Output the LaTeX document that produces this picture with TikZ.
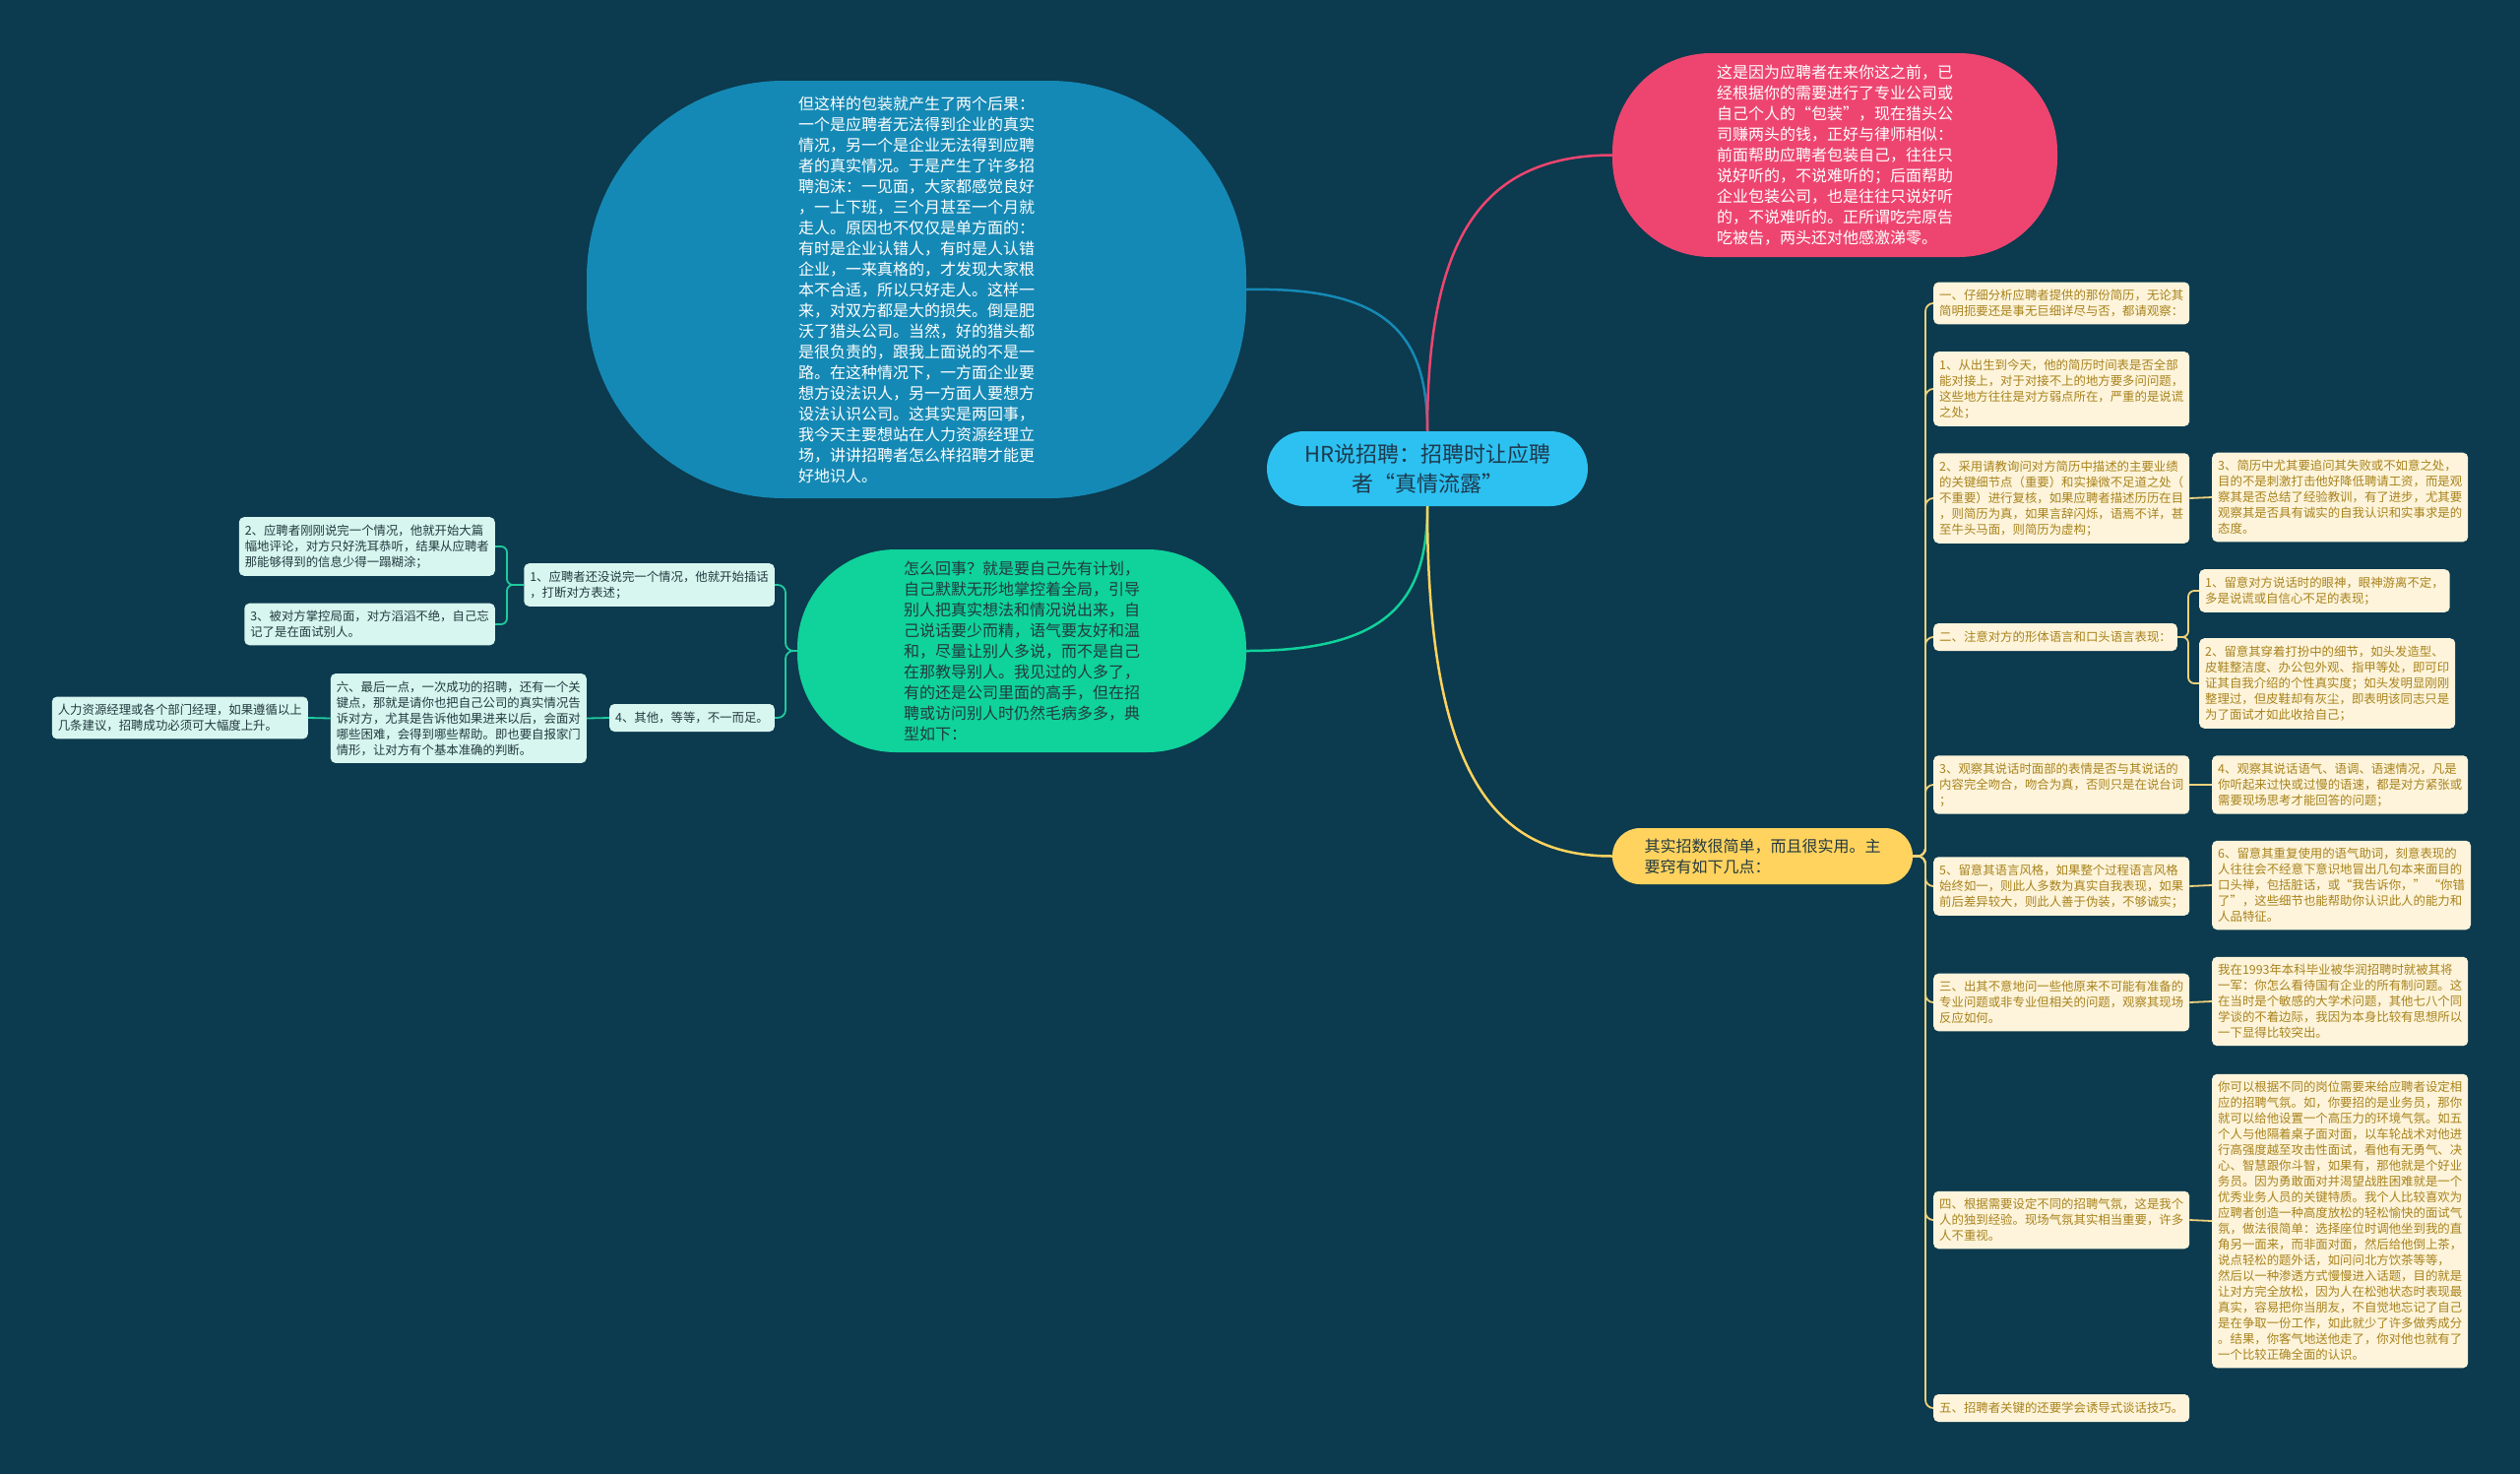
\documentclass[tikz,border=0pt]{standalone}
\usepackage{fontspec}
\setmainfont{Noto Sans CJK SC}
\definecolor{bg}{HTML}{0C3A4E}
\definecolor{ctrc}{HTML}{2CC1F1}
\definecolor{ctrtext}{HTML}{1E3A4E}
\definecolor{bluec}{HTML}{1589B5}
\definecolor{pinkc}{HTML}{EE4570}
\definecolor{greenc}{HTML}{10D29B}
\definecolor{yellowc}{HTML}{FFD35E}
\definecolor{cream}{HTML}{FDF4DB}
\definecolor{gold}{HTML}{A8821C}
\definecolor{mint}{HTML}{D6F6EF}
\definecolor{ldark}{HTML}{23393F}
\definecolor{ylinec}{HTML}{F0D27A}
\definecolor{glinec}{HTML}{1FCB9E}
\begin{document}
\begin{tikzpicture}[x=1pt,y=-1pt,
  bigtext/.style={font=\fontsize{16}{21}\selectfont, align=left, inner sep=0pt},
  smtext/.style={font=\fontsize{12.4}{16}\selectfont, align=left, rounded corners=5pt, inner xsep=6pt, inner ysep=7.5pt, minimum height=28pt},
  rbox/.style={smtext, fill=cream, text=gold},
  lbox/.style={smtext, fill=mint, text=ldark},
  mainlink/.style={line width=2.5pt},
  ylink/.style={draw=ylinec, line width=1.8pt, rounded corners=8pt},
  glink/.style={draw=glinec, line width=1.8pt, rounded corners=8pt}]
\fill[bg] (0,0) rectangle (2560,1497);
\useasboundingbox (0,0) rectangle (2560,1497);

% main nodes
\node[bigtext, fill=bluec, text=white, minimum width=670pt, minimum height=424pt, rounded corners=200pt] (B) at (931,294) {但这样的包装就产生了两个后果：\\一个是应聘者无法得到企业的真实\\情况，另一个是企业无法得到应聘\\者的真实情况。于是产生了许多招\\聘泡沫：一见面，大家都感觉良好\\，一上下班，三个月甚至一个月就\\走人。原因也不仅仅是单方面的：\\有时是企业认错人，有时是人认错\\企业，一来真格的，才发现大家根\\本不合适，所以只好走人。这样一\\来，对双方都是大的损失。倒是肥\\沃了猎头公司。当然，好的猎头都\\是很负责的，跟我上面说的不是一\\路。在这种情况下，一方面企业要\\想方设法识人，另一方面人要想方\\设法认识公司。这其实是两回事，\\我今天主要想站在人力资源经理立\\场，讲讲招聘者怎么样招聘才能更\\好地识人。};

\node[bigtext, fill=pinkc, text=white, minimum width=452pt, minimum height=207pt, rounded corners=100pt] (P) at (1864,157.5) {这是因为应聘者在来你这之前，已\\经根据你的需要进行了专业公司或\\自己个人的“包装”，现在猎头公\\司赚两头的钱，正好与律师相似：\\前面帮助应聘者包装自己，往往只\\说好听的，不说难听的；后面帮助\\企业包装公司，也是往往只说好听\\的，不说难听的。正所谓吃完原告\\吃被告，两头还对他感激涕零。};

\node[font=\fontsize{22}{30}\selectfont, align=center, fill=ctrc, text=ctrtext, minimum width=326pt, minimum height=76pt, rounded corners=38pt, inner sep=0pt] (C) at (1450,476) {HR说招聘：招聘时让应聘\\者“真情流露”};

\node[bigtext, fill=greenc, text=ldark, minimum width=456pt, minimum height=206pt, rounded corners=100pt] (G) at (1038,661) {怎么回事？就是要自己先有计划，\\自己默默无形地掌控着全局，引导\\别人把真实想法和情况说出来，自\\己说话要少而精，语气要友好和温\\和，尽量让别人多说，而不是自己\\在那教导别人。我见过的人多了，\\有的还是公司里面的高手，但在招\\聘或访问别人时仍然毛病多多，典\\型如下：};

\node[bigtext, fill=yellowc, text=ldark, minimum width=305pt, minimum height=57pt, rounded corners=28pt] (Y) at (1790.5,869.5) {其实招数很简单，而且很实用。主\\要窍有如下几点：};

% main connectors
\draw[mainlink, bluec] (B.east) .. controls (1410,291) and (1450,340) .. (C.north);
\draw[mainlink, pinkc] (C.north) .. controls (1450,250) and (1500,157.5) .. (P.west);
\draw[mainlink, greenc] (C.south) .. controls (1450,610) and (1410,661) .. (G.east);
\draw[mainlink, yellowc] (C.south) .. controls (1450,790) and (1520,869.5) .. (Y.west);

% left nodes
\node[lbox, anchor=east] (L1) at (787,594) {1、应聘者还没说完一个情况，他就开始插话\\，打断对方表述；};
\node[lbox, anchor=east] (L2) at (503,555) {2、应聘者刚刚说完一个情况，他就开始大篇\\幅地评论，对方只好洗耳恭听，结果从应聘者\\那能够得到的信息少得一蹋糊涂；};
\node[lbox, anchor=east] (L3) at (503,634) {3、被对方掌控局面，对方滔滔不绝，自己忘\\记了是在面试别人。};
\node[lbox, anchor=east] (L4) at (787,729) {4、其他，等等，不一而足。};
\node[lbox, anchor=east] (L6) at (596,729.5) {六、最后一点，一次成功的招聘，还有一个关\\键点，那就是请你也把自己公司的真实情况告\\诉对方，尤其是告诉他如果进来以后，会面对\\哪些困难，会得到哪些帮助。即也要自报家门\\情形，让对方有个基本准确的判断。};
\node[lbox, anchor=east] (LH) at (313,729) {人力资源经理或各个部门经理，如果遵循以上\\几条建议，招聘成功必须可大幅度上升。};

\draw[glink] (G.west) -- (798,661) |- (L1.east);
\draw[glink] (G.west) -- (798,661) |- (L4.east);
\draw[glink, rounded corners=6pt] (L1.west) -- (515,594) |- (L2.east);
\draw[glink, rounded corners=6pt] (L1.west) -- (515,594) |- (L3.east);
\draw[glink] (L4.west) -- (L6.east);
\draw[glink] (L6.west) -- (LH.east);

% right column 1
\node[rbox, anchor=west] (R1) at (1964,308) {一、仔细分析应聘者提供的那份简历，无论其\\简明扼要还是事无巨细详尽与否，都请观察：};
\node[rbox, anchor=west] (R2) at (1964,395) {1、从出生到今天，他的简历时间表是否全部\\能对接上，对于对接不上的地方要多问问题，\\这些地方往往是对方弱点所在，严重的是说谎\\之处；};
\node[rbox, anchor=west] (R3) at (1964,506) {2、采用请教询问对方简历中描述的主要业绩\\的关键细节点（重要）和实操微不足道之处（\\不重要）进行复核，如果应聘者描述历历在目\\，则简历为真，如果言辞闪烁，语焉不详，甚\\至牛头马面，则简历为虚构；};
\node[rbox, anchor=west] (R4) at (1964,647) {二、注意对方的形体语言和口头语言表现：};
\node[rbox, anchor=west] (R5) at (1964,797) {3、观察其说话时面部的表情是否与其说话的\\内容完全吻合，吻合为真，否则只是在说台词\\；};
\node[rbox, anchor=west] (R6) at (1964,900) {5、留意其语言风格，如果整个过程语言风格\\始终如一，则此人多数为真实自我表现，如果\\前后差异较大，则此人善于伪装，不够诚实；};
\node[rbox, anchor=west] (R7) at (1964,1018) {三、出其不意地问一些他原来不可能有准备的\\专业问题或非专业但相关的问题，观察其现场\\反应如何。};
\node[rbox, anchor=west] (R8) at (1964,1239) {四、根据需要设定不同的招聘气氛，这是我个\\人的独到经验。现场气氛其实相当重要，许多\\人不重视。};
\node[rbox, anchor=west] (R9) at (1964,1430) {五、招聘者关键的还要学会诱导式谈话技巧。};

\foreach \n in {R1,R2,R3,R4,R5,R6,R7,R8,R9}
  \draw[ylink] (Y.east) -- (1956,869.5) |- (\n.west);

% right column 2
\node[rbox, anchor=west] (S1) at (2247,505) {3、简历中尤其要追问其失败或不如意之处，\\目的不是刺激打击他好降低聘请工资，而是观\\察其是否总结了经验教训，有了进步，尤其要\\观察其是否具有诚实的自我认识和实事求是的\\态度。};
\node[rbox, anchor=west] (S2) at (2234,600) {1、留意对方说话时的眼神，眼神游离不定，\\多是说谎或自信心不足的表现；};
\node[rbox, anchor=west] (S3) at (2234,694) {2、留意其穿着打扮中的细节，如头发造型、\\皮鞋整洁度、办公包外观、指甲等处，即可印\\证其自我介绍的个性真实度；如头发明显刚刚\\整理过，但皮鞋却有灰尘，即表明该同志只是\\为了面试才如此收拾自己；};
\node[rbox, anchor=west] (S4) at (2247,797) {4、观察其说话语气、语调、语速情况，凡是\\你听起来过快或过慢的语速，都是对方紧张或\\需要现场思考才能回答的问题；};
\node[rbox, anchor=west] (S5) at (2247,899) {6、留意其重复使用的语气助词，刻意表现的\\人往往会不经意下意识地冒出几句本来面目的\\口头禅，包括脏话，或“我告诉你，” “你错\\了”，这些细节也能帮助你认识此人的能力和\\人品特征。};
\node[rbox, anchor=west] (S6) at (2247,1017) {我在1993年本科毕业被华润招聘时就被其将\\一军：你怎么看待国有企业的所有制问题。这\\在当时是个敏感的大学术问题，其他七八个同\\学谈的不着边际，我因为本身比较有思想所以\\一下显得比较突出。};
\node[rbox, anchor=west] (S7) at (2247,1240) {你可以根据不同的岗位需要来给应聘者设定相\\应的招聘气氛。如，你要招的是业务员，那你\\就可以给他设置一个高压力的环境气氛。如五\\个人与他隔着桌子面对面，以车轮战术对他进\\行高强度越至攻击性面试，看他有无勇气、决\\心、智慧跟你斗智，如果有，那他就是个好业\\务员。因为勇敢面对并渴望战胜困难就是一个\\优秀业务人员的关键特质。我个人比较喜欢为\\应聘者创造一种高度放松的轻松愉快的面试气\\氛，做法很简单：选择座位时调他坐到我的直\\角另一面来，而非面对面，然后给他倒上茶，\\说点轻松的题外话，如问问北方饮茶等等，\\然后以一种渗透方式慢慢进入话题，目的就是\\让对方完全放松，因为人在松弛状态时表现最\\真实，容易把你当朋友，不自觉地忘记了自己\\是在争取一份工作，如此就少了许多做秀成分\\。结果，你客气地送他走了，你对他也就有了\\一个比较正确全面的认识。};

\draw[ylink] (R3.east) -- (S1.west);
\draw[ylink, rounded corners=6pt] (R4.east) -- (2223,647) |- (S2.west);
\draw[ylink, rounded corners=6pt] (R4.east) -- (2223,647) |- (S3.west);
\draw[ylink] (R5.east) -- (S4.west);
\draw[ylink] (R6.east) -- (S5.west);
\draw[ylink] (R7.east) -- (S6.west);
\draw[ylink] (R8.east) -- (S7.west);
\end{tikzpicture}
\end{document}
